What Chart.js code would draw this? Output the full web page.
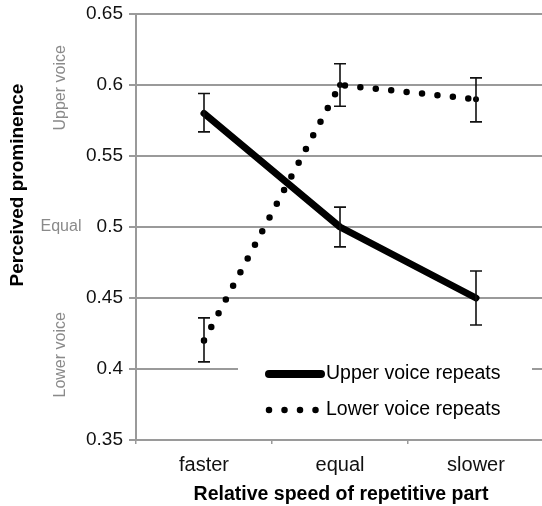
<!doctype html>
<html>
  <head>
    <meta charset="utf-8" />
    <title>Perceived prominence</title>
    <script src="https://cdn.jsdelivr.net/npm/chart.js@4/dist/chart.umd.min.js"></script>
    <style>
      html, body { margin: 0; padding: 0; background: #fff; overflow: hidden; }
      #wrap { width: 548px; height: 506px; position: relative; }
    </style>
  </head>
  <body>
    <div id="wrap"><canvas id="myChart"></canvas></div>
    <script>
      const categories = ['faster', 'equal', 'slower'];
      const upperValues = [0.58, 0.50, 0.45];
      const upperLow = [0.567, 0.486, 0.431];
      const upperHigh = [0.594, 0.514, 0.469];
      const lowerValues = [0.42, 0.60, 0.59];
      const lowerLow = [0.405, 0.585, 0.574];
      const lowerHigh = [0.436, 0.615, 0.605];
      const yTicks = [0.35, 0.4, 0.45, 0.5, 0.55, 0.6, 0.65];
      const sideLabels = [
        {text: 'Upper voice', value: 0.598, rotate: true},
        {text: 'Equal', value: 0.5, rotate: false},
        {text: 'Lower voice', value: 0.41, rotate: true},
      ];

      const FONT = '"Liberation Sans", Arial, sans-serif';
      const gridColor = '#9a9a9a';

      // error bars drawn from the data arrays through the scales
      const errorBars = {
        id: 'errorBars',
        afterDatasetsDraw(chart) {
          const {ctx, scales: {x, y}} = chart;
          const sets = [[upperLow, upperHigh], [lowerLow, lowerHigh]];
          ctx.save();
          ctx.strokeStyle = '#111';
          ctx.lineWidth = 1.6;
          sets.forEach(([lo, hi]) => {
            categories.forEach((c, i) => {
              const px = x.getPixelForValue(i);
              const y1 = y.getPixelForValue(lo[i]);
              const y2 = y.getPixelForValue(hi[i]);
              ctx.beginPath();
              ctx.moveTo(px, y1); ctx.lineTo(px, y2);
              ctx.moveTo(px - 6, y1); ctx.lineTo(px + 6, y1);
              ctx.moveTo(px - 6, y2); ctx.lineTo(px + 6, y2);
              ctx.stroke();
            });
          });
          ctx.restore();
        }
      };

      const extras = {
        id: 'extras',
        afterDraw(chart) {
          const {ctx, chartArea, scales: {y}} = chart;
          ctx.save();
          // side labels
          ctx.fillStyle = '#8a8a8a';
          ctx.font = '16px ' + FONT;
          ctx.textAlign = 'center';
          ctx.textBaseline = 'middle';
          sideLabels.forEach(s => {
            const py = y.getPixelForValue(s.value);
            if (s.rotate) {
              ctx.save();
              ctx.translate(61, py);
              ctx.rotate(-Math.PI / 2);
              ctx.fillText(s.text, 0, 0);
              ctx.restore();
            } else {
              ctx.fillText(s.text, 61, py);
            }
          });
          // axis titles
          ctx.fillStyle = '#000';
          ctx.font = 'bold 19px ' + FONT;
          ctx.save();
          ctx.translate(18, 185);
          ctx.rotate(-Math.PI / 2);
          ctx.fillText('Perceived prominence', 0, 0);
          ctx.restore();
          ctx.font = 'bold 19.5px ' + FONT;
          ctx.fillText('Relative speed of repetitive part', 341, 495);

          // legend
          const ds = chart.data.datasets;
          ctx.fillStyle = '#fff';
          ctx.fillRect(238, 356, 294, 66);
          ds.forEach((d, i) => {
            const ly = 374 + i * 36;
            ctx.strokeStyle = '#000';
            ctx.lineCap = 'round';
            ctx.lineWidth = i ? 6.5 : 8;
            ctx.setLineDash(d.borderDash || []);
            ctx.beginPath();
            ctx.moveTo(269, ly);
            ctx.lineTo(i ? 318 : 321, ly);
            ctx.stroke();
            ctx.setLineDash([]);
            ctx.fillStyle = '#000';
            ctx.font = '19.5px ' + FONT;
            ctx.textAlign = 'left';
            ctx.fillText(d.label, 326, ly);
          });
          ctx.restore();
        }
      };

      new Chart(document.getElementById('myChart'), {
        type: 'line',
        data: {
          labels: categories,
          datasets: [
            {
              label: 'Upper voice repeats',
              data: upperValues,
              borderColor: '#000',
              backgroundColor: '#000',
              borderWidth: 7,
              borderCapStyle: 'round',
              borderJoinStyle: 'round',
              pointRadius: 0,
              tension: 0,
            },
            {
              label: 'Lower voice repeats',
              data: lowerValues,
              borderColor: '#000',
              backgroundColor: '#000',
              borderWidth: 6.5,
              borderDash: [0, 15.5],
              borderCapStyle: 'round',
              pointRadius: 3,
              pointBorderWidth: 0,
              tension: 0,
            },
          ]
        },
        options: {
          responsive: true,
          maintainAspectRatio: false,
          animation: false,
          layout: {padding: {top: 14, right: 0, left: 0, bottom: 0}},
          plugins: {legend: {display: false}, tooltip: {enabled: false}},
          scales: {
            x: {
              offset: true,
              grid: {offset: true, drawOnChartArea: false, color: gridColor, tickLength: 4, lineWidth: 1.5},
              border: {color: gridColor, width: 2},
              ticks: {color: '#111', font: {family: FONT, size: 20}, padding: 9},
              afterFit(s) { s.height = 66; s.paddingLeft = 0; s.paddingRight = 0; }
            },
            y: {
              min: 0.35, max: 0.65,
              afterBuildTicks(s) { s.ticks = yTicks.map(v => ({value: v})); },
              grid: {color: gridColor, lineWidth: 2, tickLength: 7},
              border: {color: gridColor, width: 2},
              ticks: {color: '#111', font: {family: FONT, size: 19}, padding: 6,
                      callback: v => String(parseFloat(v.toFixed(2)))},
              afterFit(s) { s.width = 136; s.paddingTop = 0; s.paddingBottom = 0; }
            }
          }
        },
        plugins: [errorBars, extras]
      });
    </script>
  </body>
</html>
